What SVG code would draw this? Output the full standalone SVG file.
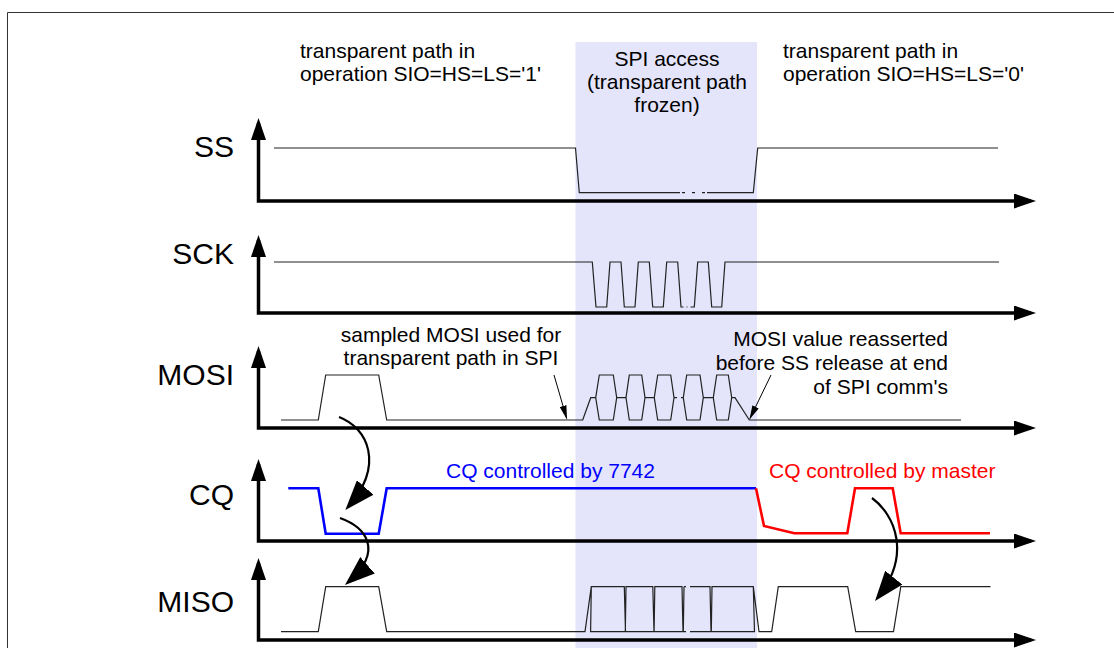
<svg xmlns="http://www.w3.org/2000/svg" width="1114" height="648" viewBox="0 0 1114 648">
<defs>
<style>
.lbl{font-family:"Liberation Sans",Arial,sans-serif;font-size:30px;fill:#000;text-anchor:end}
.txt{font-family:"Liberation Sans",Arial,sans-serif;font-size:21px;fill:#000}
.mid{text-anchor:middle}
.end{text-anchor:end}
.axis{fill:none;stroke:#000;stroke-width:3.5;marker-start:url(#ah);marker-end:url(#ah)}
.sig{fill:none;stroke:#222;stroke-width:1.2;stroke-linejoin:miter}
.cq{fill:none;stroke-width:2.6;stroke-linejoin:miter}
.curve{fill:none;stroke:#000;stroke-width:2.2;marker-end:url(#big)}
.note{fill:none;stroke:#000;stroke-width:1;marker-end:url(#small)}
</style>
<marker id="ah" markerUnits="userSpaceOnUse" markerWidth="22" markerHeight="15" refX="17" refY="7.5" orient="auto-start-reverse" viewBox="0 0 22 15"><path d="M0,0 L22,7.5 L0,15 z" fill="#000"/></marker>
<marker id="big" markerUnits="userSpaceOnUse" markerWidth="30" markerHeight="22" refX="26" refY="11" orient="auto" viewBox="0 0 30 22"><path d="M0,0 L30,11 L0,22 z" fill="#000"/></marker>
<marker id="small" markerUnits="userSpaceOnUse" markerWidth="14" markerHeight="7" refX="13" refY="3.5" orient="auto" viewBox="0 0 14 7"><path d="M0,0 L14,3.5 L0,7 z" fill="#000"/></marker>
</defs>

<rect width="1114" height="648" fill="#fff"/>
<g id="band"><rect x="575.5" y="42" width="181.5" height="606" fill="#e4e4fa"/></g>
<g id="frame" fill="none" stroke="#333" stroke-width="1"><path d="M7.5,648 V12.5 H1114"/></g>

<g id="headings">
<text class="txt" x="300" y="58">transparent path in</text>
<text class="txt" x="300" y="81">operation SIO=HS=LS='1'</text>
<text class="txt mid" x="667" y="66">SPI access</text>
<text class="txt mid" x="667" y="89">(transparent path</text>
<text class="txt mid" x="667" y="112">frozen)</text>
<text class="txt" x="783" y="58">transparent path in</text>
<text class="txt" x="783" y="81">operation SIO=HS=LS='0'</text>
</g>

<g id="ss">
<text class="lbl" x="234" y="157">SS</text>
<path class="axis" d="M258.5,123 V201 H1031"/>
<path class="sig" d="M274,148 H575.5 L579.3,192.7 H680 M682,192.7 H685 M692,192.7 H695 M702,192.7 H705 M707,192.7 H753.3 L757.7,148 H998"/>
</g>

<g id="sck">
<text class="lbl" x="234" y="264">SCK</text>
<path class="axis" d="M258.5,240 V313 H1031"/>
<path class="sig" d="M274,262 H592.3 L596,307 H606.7 L610,262 H621 L624.3,307 H635 L638.3,262 H649.3 L652.7,307 H663.3 L666.7,262 H677.7 L681,307 H683.5 M686.5,307 H687.5 M690.5,307 H694.3 L697.7,262 H708.3 L711.7,307 H721.7 L725,262 H999"/>
</g>

<g id="mosi">
<text class="lbl" x="234" y="385">MOSI</text>
<path class="axis" d="M258.5,351 V428 H1031"/>
<path class="sig" d="M281,420 H318.3 L325.7,375 H378.7 L386.7,420 H582.7 L590.7,397.7 H595.7
 M595.7,397.7 L599.3,375 H613.3 L616.7,397.7 M595.7,397.7 L599.3,420 H613.3 L616.7,397.7 H626
 M626,397.7 L629.3,375 H641.7 L645,397.7 M626,397.7 L629.3,420 H641.7 L645,397.7 H654.3
 M654.3,397.7 L657.7,375 H670.7 L674,397.7 M654.3,397.7 L657.7,420 H670.7 L674,397.7 H677 M681,397.7 H683.3
 M683.3,397.7 L686.7,375 H700 L703.3,397.7 M683.3,397.7 L686.7,420 H700 L703.3,397.7 H713.3
 M713.3,397.7 L716.7,375 H728.3 L731.7,397.7 M713.3,397.7 L716.7,420 H728.3 L731.7,397.7 H735 L749.3,420 H961"/>
</g>

<g id="cq">
<text class="lbl" x="234" y="505">CQ</text>
<path class="axis" d="M258.5,464 V541 H1031"/>
<path class="cq" stroke="#0000ff" d="M288.3,488.3 H318.3 L325.7,533.7 H378.7 L386.7,488.3 H756"/>
<path class="cq" stroke="#ff0000" d="M756,488.3 L764,526 L794.3,533.3 H847.3 L855,488.3 H892.7 L900.7,533.3 H990"/>
<text class="txt" x="446" y="478" style="fill:#0000ff">CQ controlled by 7742</text>
<text class="txt" x="769" y="478" style="fill:#ff0000">CQ controlled by master</text>
</g>

<g id="miso">
<text class="lbl" x="234" y="611.5">MISO</text>
<path class="axis" d="M258.5,563 V640 H1031"/>
<path class="sig" d="M281,631.7 H318.3 L325.7,586.7 H378.7 L386.7,631.7 H585 L591.3,586.7
 M591.3,586.7 H624.3 L625.5,631.7 H590.6 Z
 M626,586.7 H652.8 L654,631.7 H625.3 Z
 M654.8,586.7 H682 L683,631.7 H654.1 Z
 M684,586.7 H686 M690,586.7 H710 L711,631.7 H690 M686,631.7 H683.3 L684,586.7
 M712,586.7 H753.3 L754.5,631.7 H711.3 Z
 M753.3,586.7 L759,631.7 H771.7 L778.3,586.7 H847.7 L855.7,631.7 H893.5 L900.8,586.7 H990.5"/>
</g>

<g id="notes">
<text class="txt mid" x="451" y="342">sampled MOSI used for</text>
<text class="txt mid" x="451" y="365">transparent path in SPI</text>
<text class="txt end" x="948" y="346">MOSI value reasserted</text>
<text class="txt end" x="948" y="370">before SS release at end</text>
<text class="txt end" x="948" y="394">of SPI comm's</text>
</g>

<g id="connectors">
<path class="note" d="M554,375 L566.7,418.5"/>
<path class="note" d="M771,375 L749.9,418.6"/>
<path class="curve" d="M339,417 C368,428 385,465 348,507"/>
<path class="curve" d="M340,518 C365,527 385,550 348,582.4"/>
<path class="curve" d="M872,498 C895,515 912,555 877.5,597.9"/>
</g>
</svg>
